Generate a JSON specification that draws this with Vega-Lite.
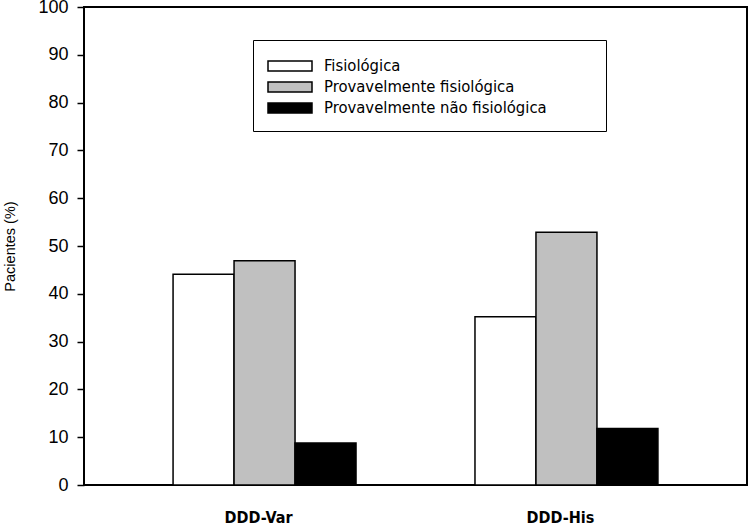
{
  "$schema": "https://vega.github.io/schema/vega-lite/v6.json",
  "width": 663,
  "height": 478,
  "autosize": "none",
  "padding": {"left": 84, "top": 7, "right": 3, "bottom": 41},
  "background": "white",
  "config": {
    "view": {"stroke": "black", "strokeWidth": 2},
    "font": "Liberation Sans"
  },
  "data": {
    "values": [
      {"grupo": "DDD-Var", "classe": "Fisiológica", "pct": 44.1},
      {"grupo": "DDD-Var", "classe": "Provavelmente fisiológica", "pct": 46.9},
      {"grupo": "DDD-Var", "classe": "Provavelmente não fisiológica", "pct": 8.8},
      {"grupo": "DDD-His", "classe": "Fisiológica", "pct": 35.2},
      {"grupo": "DDD-His", "classe": "Provavelmente fisiológica", "pct": 52.9},
      {"grupo": "DDD-His", "classe": "Provavelmente não fisiológica", "pct": 11.8}
    ]
  },
  "mark": {"type": "bar", "stroke": "black", "strokeWidth": 1.5},
  "encoding": {
    "x": {
      "field": "grupo",
      "type": "nominal",
      "sort": ["DDD-Var", "DDD-His"],
      "scale": {"paddingInner": 0.394, "paddingOuter": 0.295},
      "axis": {
        "title": null,
        "ticks": false,
        "domain": false,
        "labelAngle": 0,
        "labelFont": "Liberation Sans Narrow, DejaVu Sans Condensed, sans-serif",
        "labelFontSize": 16,
        "labelFontWeight": "bold",
        "labelColor": "black",
        "labelPadding": 24,
        "labelOffset": -6
      }
    },
    "xOffset": {
      "field": "classe",
      "type": "nominal",
      "sort": ["Fisiológica", "Provavelmente fisiológica", "Provavelmente não fisiológica"],
      "scale": {"paddingInner": 0, "paddingOuter": 0}
    },
    "y": {
      "field": "pct",
      "type": "quantitative",
      "scale": {"domain": [0, 100], "nice": false},
      "axis": {
        "title": "Pacientes (%)",
        "titleFont": "Liberation Sans",
        "titleFontSize": 14.5,
        "titleFontWeight": "normal",
        "titleColor": "black",
        "titlePadding": 20,
        "values": [0, 10, 20, 30, 40, 50, 60, 70, 80, 90, 100],
        "grid": false,
        "tickSize": 7,
        "tickWidth": 1.5,
        "tickColor": "black",
        "domain": false,
        "labelFontSize": 18,
        "labelColor": "black",
        "labelPadding": 9
      }
    },
    "color": {
      "field": "classe",
      "type": "nominal",
      "sort": ["Fisiológica", "Provavelmente fisiológica", "Provavelmente não fisiológica"],
      "scale": {
        "domain": ["Fisiológica", "Provavelmente fisiológica", "Provavelmente não fisiológica"],
        "range": ["#ffffff", "#c0c0c0", "#000000"]
      },
      "legend": {
        "orient": "none",
        "legendX": 169,
        "legendY": 33,
        "title": "MMM",
        "titleOrient": "right",
        "titleOpacity": 0,
        "titleFontSize": 14,
        "titlePadding": 10,
        "strokeColor": "black",
        "padding": 14,
        "fillColor": "white",
        "symbolType": "M-1,-0.46H3V0.46H-1Z",
        "symbolSize": 484,
        "symbolStrokeColor": "black",
        "symbolStrokeWidth": 1.5,
        "symbolOpacity": 1,
        "labelFont": "Liberation Sans Narrow, DejaVu Sans Condensed, sans-serif",
        "labelFontSize": 16.5,
        "labelColor": "black",
        "labelOffset": 33,
        "labelLimit": 400,
        "rowPadding": -1
      }
    }
  }
}
